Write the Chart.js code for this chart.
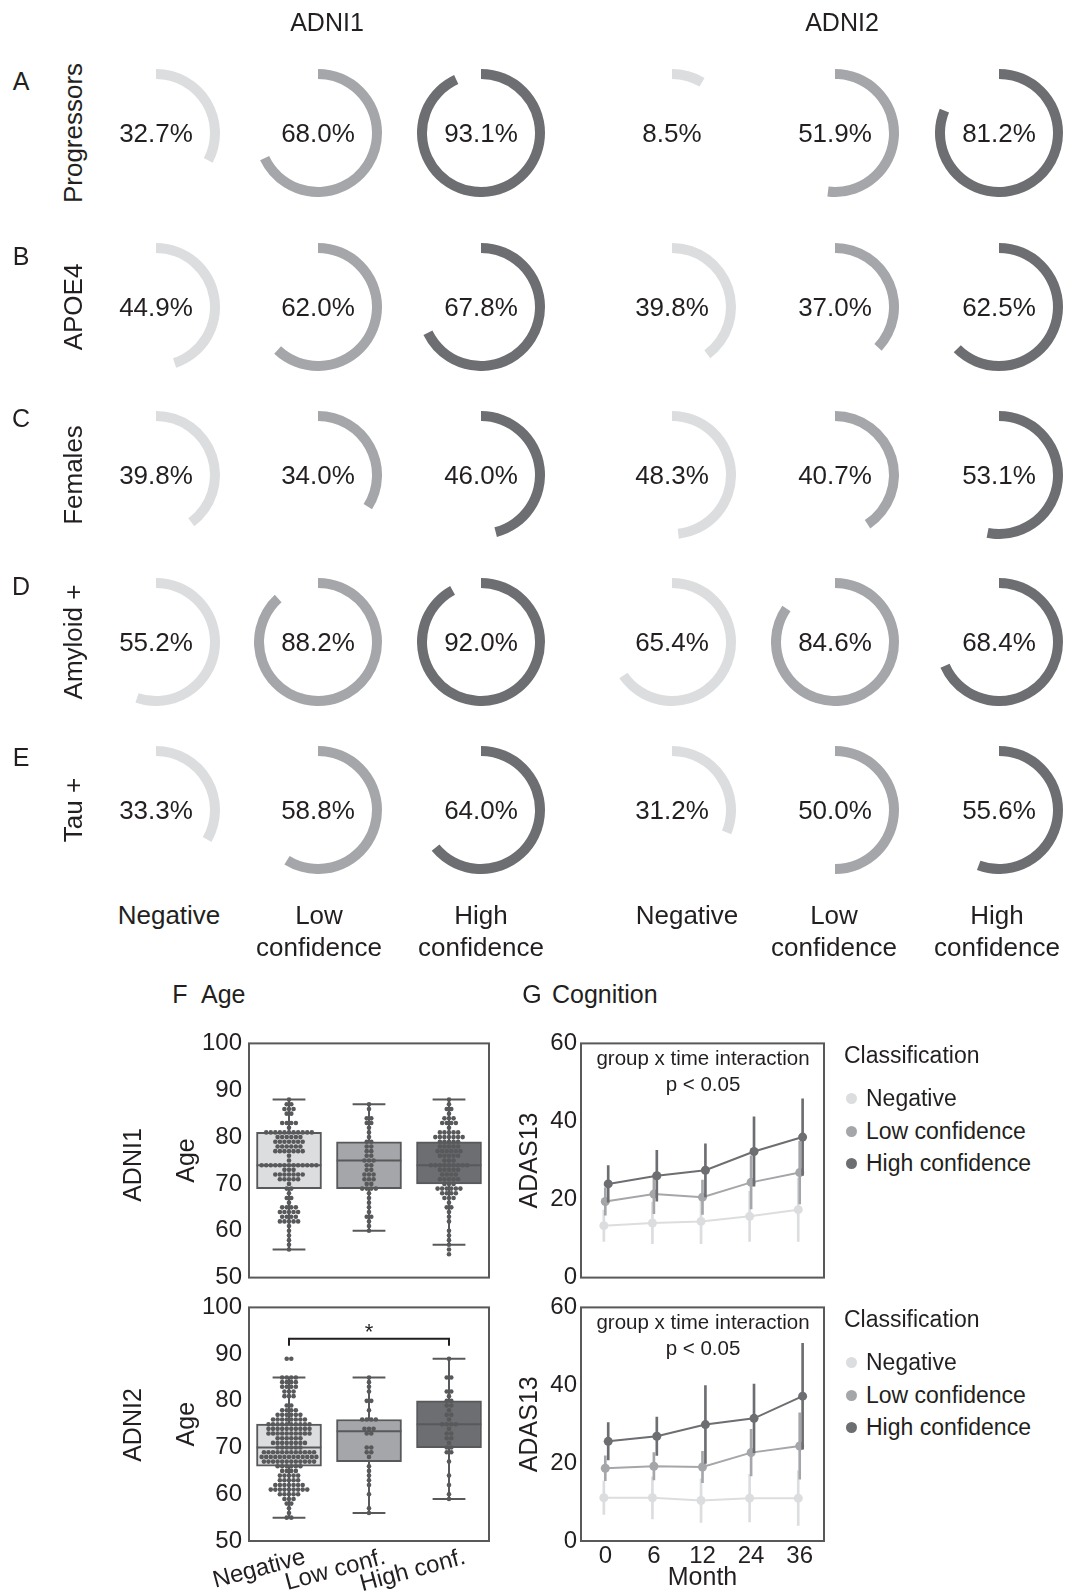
<!DOCTYPE html>
<html>
<head>
<meta charset="utf-8">
<script src="https://cdn.jsdelivr.net/npm/chart.js@4.4.1/dist/chart.umd.min.js"></script>
<style>
  body { margin: 0; background: #fff; }
  #page { position: relative; width: 1065px; height: 1593px; overflow: hidden;
          font-family: 'Liberation Sans', Arial, Helvetica, sans-serif; color: #231f20; }
  .t { position: absolute; white-space: nowrap; line-height: 1; }
  canvas { position: absolute; }
  .dot { position: absolute; border-radius: 50%; }
</style>
</head>
<body>
<div id="page"></div>
<script>
// ---- data ----
const groups = ['Negative', 'Low confidence', 'High confidence'];
const rowLetters = ['A', 'B', 'C', 'D', 'E'];
const rowNames = ['Progressors', 'APOE4', 'Females', 'Amyloid +', 'Tau +'];

// percent of each classification group, rows A..E, cols Negative/Low/High
const adni1Pct = [[32.7, 68.0, 93.1], [44.9, 62.0, 67.8], [39.8, 34.0, 46.0], [55.2, 88.2, 92.0], [33.3, 58.8, 64.0]];
const adni2Pct = [[8.5, 51.9, 81.2], [39.8, 37.0, 62.5], [48.3, 40.7, 53.1], [65.4, 84.6, 68.4], [31.2, 50.0, 55.6]];

// age box stats: [whisker low, Q1, median, Q3, whisker high]
const boxLabels = ['Negative', 'Low conf.', 'High conf.'];
const adni1Box = [[56, 69, 74, 81, 88], [60, 69, 75, 79, 87], [57, 70, 74, 79, 88]];
const adni2Box = [[55, 66, 70, 75, 85], [56, 67, 73.5, 76, 85], [59, 70, 75, 80, 89]];

// swarm points: [age, number of subjects]
const adni1NegAges = [[88,1],[87,2],[86,3],[85,2],[83,4],[82,1],[81,11],[80,6],[79,7],[78,6],[77,7],[76,1],[75,1],[74,13],[73,3],[72,7],[71,5],[70,1],[69,2],[68,1],[67,2],[66,1],[65,4],[64,5],[63,4],[62,5],[61,1],[60,1],[59,1],[58,1],[57,1],[56,1]];
const adni1LowAges = [[87,1],[86,1],[84,2],[83,2],[82,1],[81,1],[80,1],[79,2],[78,2],[77,2],[76,2],[75,3],[74,2],[73,2],[72,3],[71,3],[70,2],[69,4],[68,1],[67,1],[66,1],[65,1],[64,1],[63,2],[62,1],[61,1],[60,1]];
const adni1HighAges = [[88,1],[87,1],[86,2],[85,1],[84,3],[83,4],[82,1],[81,5],[80,7],[79,5],[78,5],[77,6],[76,5],[75,3],[74,9],[73,5],[72,4],[71,5],[70,3],[69,6],[68,4],[67,3],[66,1],[65,2],[64,1],[63,1],[62,1],[60,1],[59,1],[58,1],[57,1],[56,1],[55,1]];
const adni2NegAges = [[89,2],[85,4],[84,4],[83,4],[82,3],[81,3],[79,2],[78,4],[77,6],[76,8],[75,10],[74,10],[73,10],[72,6],[71,8],[70,6],[69,12],[68,13],[67,12],[66,6],[65,4],[64,5],[63,5],[62,7],[61,9],[60,5],[59,3],[58,2],[57,1],[56,1],[55,2]];
const adni2LowAges = [[85,1],[84,1],[83,1],[82,1],[80,2],[78,1],[76,4],[74,3],[73,2],[70,2],[69,2],[68,1],[66,1],[65,1],[64,1],[63,1],[62,1],[60,1],[57,1],[56,1]];
const adni2HighAges = [[89,1],[85,2],[82,2],[81,1],[80,2],[79,2],[78,1],[77,2],[76,1],[75,4],[74,1],[73,2],[72,2],[71,1],[70,2],[69,2],[67,1],[64,1],[62,1],[60,1],[59,1]];

// ADAS13 over time: means and error bar half widths per group
const months = ['0', '6', '12', '24', '36'];
const adni1Mean = [[13.3, 14.0, 14.4, 15.7, 17.4], [19.5, 21.4, 20.6, 24.4, 26.9], [24.0, 26.1, 27.5, 32.3, 36.0]];
const adni1Err = [[4.0, 5.3, 5.7, 6.4, 8.1], [3.5, 5.0, 4.4, 6.8, 8.0], [4.7, 6.5, 6.8, 8.9, 9.8]];
const adni2Mean = [[11.1, 11.1, 10.4, 11.0, 11.0], [18.7, 19.2, 19.0, 22.7, 24.4], [25.6, 26.9, 29.9, 31.5, 37.2]];
const adni2Err = [[4.3, 5.4, 5.6, 6.1, 7.0], [3.2, 3.5, 4.0, 6.0, 8.5], [4.8, 4.9, 10.0, 8.8, 13.6]];

// ---- style ----
const FONT = "'Liberation Sans', Arial, Helvetica, sans-serif";
const TEXT = '#231f20';
const EDGE = '#58595b';
const FILL = ['#dcdddf', '#a5a6a9', '#6d6e71'];
const DOT_STEP = 0.057;   // swarm spacing in category units
const CAP = 0.205;
const BOX_HALF = 0.405;
const DODGE = [-0.03, 0, 0.06];

Chart.defaults.font.family = FONT;
Chart.defaults.color = TEXT;
Chart.defaults.animation = false;

const page = document.getElementById('page');

function addText(txt, x, y, size, opts = {}) {
  const d = document.createElement('div');
  d.className = 't';
  d.textContent = txt;
  d.style.left = x + 'px';
  d.style.top = y + 'px';
  d.style.fontSize = size + 'px';
  let tf = opts.left ? 'translate(0,-50%)' : 'translate(-50%,-50%)';
  if (opts.rotate) tf += ' rotate(' + opts.rotate + 'deg)';
  d.style.transform = tf;
  page.appendChild(d);
  return d;
}

function addCanvas(x, y, w, h) {
  const c = document.createElement('canvas');
  c.width = w; c.height = h;
  c.style.left = x + 'px'; c.style.top = y + 'px';
  page.appendChild(c);
  return c;
}

// ---- top: ring charts ----
const ringX = [156, 318, 481, 672, 835, 999];
const ringY = [133, 307, 475, 642, 810];

function makeRing(cx, cy, pct, color) {
  const c = addCanvas(cx - 64, cy - 64, 128, 128);
  new Chart(c, {
    type: 'doughnut',
    data: {
      labels: ['in group', 'rest'],
      datasets: [{ data: [pct, 100 - pct], backgroundColor: [color, 'rgba(0,0,0,0)'], borderWidth: 0 }]
    },
    options: {
      responsive: false,
      cutout: 54,
      events: [],
      layout: { padding: 0 },
      plugins: { legend: { display: false }, tooltip: { enabled: false } }
    }
  });
  addText(pct.toFixed(1) + '%', cx, cy, 26);
}

rowNames.forEach((name, r) => {
  adni1Pct[r].forEach((p, g) => makeRing(ringX[g], ringY[r], p, FILL[g]));
  adni2Pct[r].forEach((p, g) => makeRing(ringX[g + 3], ringY[r], p, FILL[g]));
  addText(name, 73, ringY[r], 26, { rotate: -90 });
});
[81, 256, 418, 586, 757].forEach((y, r) => addText(rowLetters[r], 21, y, 25));
addText('ADNI1', 327, 22, 25);
addText('ADNI2', 842, 22, 25);

const bottomX = [169, 319, 481, 687, 834, 997];
[0, 3].forEach(off => {
  addText('Negative', bottomX[off], 915, 26);
  addText('Low', bottomX[off + 1], 915, 26);
  addText('confidence', bottomX[off + 1], 947, 26);
  addText('High', bottomX[off + 2], 915, 26);
  addText('confidence', bottomX[off + 2], 947, 26);
});

// ---- bottom panels ----
const framePlugin = {
  id: 'frame',
  afterDatasetsDraw(chart) {
    const { ctx, chartArea: a } = chart;
    ctx.save();
    ctx.strokeStyle = EDGE;
    ctx.lineWidth = 2;
    ctx.strokeRect(a.left, a.top, a.right - a.left, a.bottom - a.top);
    ctx.restore();
  }
};

// y tick labels reserve ~half a line + tick padding above and below the plot area
function boxPanel(top, h, stats, swarms, showTicks, bracket) {
  const c = addCanvas(140, top, 355, h);
  const pts = [];
  swarms.forEach((rows, g) => rows.forEach(([age, n]) => {
    for (let i = 0; i < n; i++) pts.push({ x: g + (i - (n - 1) / 2) * DOT_STEP, y: age });
  }));
  const segs = [];
  stats.forEach(([lo, q1, med, q3, hi], g) => {
    segs.push({ x: g, y: lo }, { x: g, y: q1 }, { x: g, y: null });
    segs.push({ x: g, y: q3 }, { x: g, y: hi }, { x: g, y: null });
    segs.push({ x: g - CAP, y: lo }, { x: g + CAP, y: lo }, { x: g, y: null });
    segs.push({ x: g - CAP, y: hi }, { x: g + CAP, y: hi }, { x: g, y: null });
    segs.push({ x: g - BOX_HALF, y: med }, { x: g + BOX_HALF, y: med }, { x: g, y: null });
  });
  const datasets = [
    { type: 'scatter', data: pts, pointRadius: 2.3, pointBorderWidth: 0, backgroundColor: EDGE, order: 0 },
    { type: 'line', data: segs, borderColor: EDGE, borderWidth: 2, pointRadius: 0, spanGaps: false, order: 1 },
    { type: 'bar', data: stats.map((s, g) => ({ x: g, y: [s[1], s[3]] })), backgroundColor: FILL,
      borderColor: EDGE, borderWidth: 2, borderSkipped: false, barThickness: 65, grouped: false, order: 2 }
  ];
  if (bracket) {
    datasets.push({ type: 'line', data: bracket, borderColor: TEXT, borderWidth: 2, pointRadius: 0, order: 0 });
  }
  new Chart(c, {
    type: 'bar',
    data: { datasets },
    options: {
      responsive: false,
      events: [],
      layout: { padding: { top: 0, right: 6, bottom: 0, left: 0 } },
      plugins: { legend: { display: false }, tooltip: { enabled: false } },
      scales: {
        x: {
          type: 'linear', min: -0.5, max: 2.5, offset: false, display: showTicks,
          grid: { display: false, drawTicks: false }, border: { display: false },
          afterBuildTicks: ax => { ax.ticks = [0, 1, 2].map(v => ({ value: v })); },
          afterFit: ax => { ax.height = showTicks ? 52 : 0; },
          ticks: { callback: v => boxLabels[v], minRotation: 15, maxRotation: 15, labelOffset: 16,
                   padding: 2, autoSkip: false, font: { size: 24 } }
        },
        y: {
          min: 50, max: 100,
          grid: { display: false, drawTicks: false }, border: { display: false },
          afterFit: ax => { ax.width = 109; },
          ticks: { stepSize: 10, padding: 7, font: { size: 24 } },
          title: { display: true, text: 'Age', font: { size: 25 }, padding: { top: 32 } }
        }
      }
    },
    plugins: [framePlugin]
  });
}

function linePanel(top, h, means, errs, showTicks) {
  const c = addCanvas(500, top, 330, h);
  const datasets = [];
  [2, 1, 0].forEach((g, k) => {
    datasets.push({
      type: 'line', data: means[g].map((m, i) => ({ x: i + DODGE[g], y: m })),
      borderColor: FILL[g], backgroundColor: FILL[g], pointBackgroundColor: FILL[g],
      pointBorderWidth: 0, pointRadius: 4.5, borderWidth: 2, order: k * 2
    });
    datasets.push({
      type: 'bar', data: means[g].map((m, i) => ({ x: i + DODGE[g], y: [m - errs[g][i], m + errs[g][i]] })),
      backgroundColor: FILL[g], borderWidth: 0, barThickness: 2, grouped: false, order: k * 2 + 1
    });
  });
  new Chart(c, {
    type: 'line',
    data: { datasets },
    options: {
      responsive: false,
      events: [],
      layout: { padding: { top: 0, right: 6, bottom: 0, left: 0 } },
      plugins: { legend: { display: false }, tooltip: { enabled: false } },
      scales: {
        x: {
          type: 'linear', min: -0.5, max: 4.5, offset: false, display: showTicks,
          grid: { display: false, drawTicks: false }, border: { display: false },
          afterBuildTicks: ax => { ax.ticks = [0, 1, 2, 3, 4].map(v => ({ value: v })); },
          afterFit: ax => { ax.height = showTicks ? 52 : 0; },
          ticks: { callback: v => months[v], maxRotation: 0, padding: 1, autoSkip: false, font: { size: 24 } },
          title: { display: true, text: 'Month', font: { size: 25 }, padding: { top: 0, bottom: 0 } }
        },
        y: {
          min: 0, max: 60,
          grid: { display: false, drawTicks: false }, border: { display: false },
          afterFit: ax => { ax.width = 81; },
          ticks: { stepSize: 20, padding: 4, font: { size: 24 } },
          title: { display: true, text: 'ADAS13', font: { size: 25 }, padding: { top: 15 } }
        }
      }
    },
    plugins: [framePlugin]
  });
}

const sigBracket = [{ x: 0, y: 91.8 }, { x: 0, y: 93.3 }, { x: 2, y: 93.3 }, { x: 2, y: 91.8 }];
boxPanel(1022, 277, adni1Box, [adni1NegAges, adni1LowAges, adni1HighAges], false, null);
boxPanel(1286, 307, adni2Box, [adni2NegAges, adni2LowAges, adni2HighAges], true, sigBracket);
linePanel(1025, 271, adni1Mean, adni1Err, false);
linePanel(1289, 304, adni2Mean, adni2Err, true);

addText('*', 369, 1332, 22);
addText('F', 180, 994, 25);
addText('Age', 201, 994, 25, { left: true });
addText('G', 532, 994, 25);
addText('Cognition', 552, 994, 25, { left: true });
addText('ADNI1', 132, 1165, 25, { rotate: -90 });
addText('ADNI2', 132, 1425, 25, { rotate: -90 });

// annotation + legend for each cognition panel
[0, 264].forEach(dy => {
  addText('group x time interaction', 703, 1058 + dy, 20.5);
  addText('p < 0.05', 703, 1084 + dy, 20.5);
  addText('Classification', 844, 1055 + dy, 23, { left: true });
  [1098, 1131, 1163].forEach((y, g) => {
    const d = document.createElement('div');
    d.className = 'dot';
    d.style.left = (851 - 5.5) + 'px';
    d.style.top = (y + dy - 5.5) + 'px';
    d.style.width = '11px';
    d.style.height = '11px';
    d.style.background = FILL[g];
    page.appendChild(d);
    addText(groups[g], 866, y + dy, 23, { left: true });
  });
});
</script>
</body>
</html>
